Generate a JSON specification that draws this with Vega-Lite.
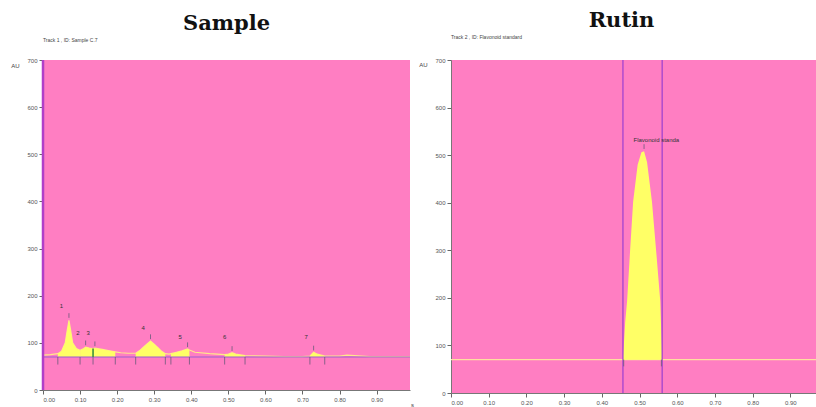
{
  "$schema": "https://vega.github.io/schema/vega-lite/v6.json",
  "background": "white",
  "padding": {"left": 10, "right": 0, "top": 10, "bottom": 0},
  "spacing": 4,
  "config": {
    "view": {"fill": "#FF7EC2", "stroke": null},
    "axis": {"labelFontSize": 6, "labelColor": "#555", "tickColor": "#666", "domainColor": "#777", "grid": false, "tickSize": 4, "labelFont": "Liberation Sans", "titleFont": "Liberation Sans", "titleFontSize": 6, "titleFontWeight": "normal", "titleColor": "#444"},
    "title": {"font": "DejaVu Serif", "fontSize": 21, "fontWeight": "bold", "color": "#111"}
  },
  "datasets": {
    "lsig": [
      {"x": 0.00, "y": 74}, {"x": 0.02, "y": 75}, {"x": 0.04, "y": 77}, {"x": 0.05, "y": 82}, {"x": 0.06, "y": 100},
      {"x": 0.065, "y": 125}, {"x": 0.07, "y": 148}, {"x": 0.075, "y": 125}, {"x": 0.08, "y": 100}, {"x": 0.09, "y": 88},
      {"x": 0.10, "y": 84}, {"x": 0.11, "y": 88}, {"x": 0.115, "y": 91}, {"x": 0.125, "y": 89}, {"x": 0.135, "y": 88},
      {"x": 0.14, "y": 89}, {"x": 0.16, "y": 86}, {"x": 0.18, "y": 83}, {"x": 0.195, "y": 81}, {"x": 0.21, "y": 79},
      {"x": 0.23, "y": 78}, {"x": 0.25, "y": 78}, {"x": 0.26, "y": 83}, {"x": 0.27, "y": 90}, {"x": 0.28, "y": 97},
      {"x": 0.29, "y": 104}, {"x": 0.30, "y": 97}, {"x": 0.31, "y": 90}, {"x": 0.32, "y": 82}, {"x": 0.33, "y": 77},
      {"x": 0.34, "y": 76}, {"x": 0.345, "y": 77}, {"x": 0.36, "y": 80}, {"x": 0.375, "y": 83}, {"x": 0.39, "y": 87},
      {"x": 0.395, "y": 85}, {"x": 0.41, "y": 80}, {"x": 0.45, "y": 77}, {"x": 0.49, "y": 75}, {"x": 0.50, "y": 76},
      {"x": 0.51, "y": 79}, {"x": 0.52, "y": 76}, {"x": 0.545, "y": 73}, {"x": 0.60, "y": 72}, {"x": 0.65, "y": 71},
      {"x": 0.70, "y": 71}, {"x": 0.72, "y": 72}, {"x": 0.73, "y": 80}, {"x": 0.74, "y": 76}, {"x": 0.76, "y": 72},
      {"x": 0.80, "y": 72}, {"x": 0.82, "y": 74}, {"x": 0.84, "y": 73}, {"x": 0.88, "y": 71}, {"x": 0.95, "y": 71}, {"x": 0.99, "y": 71}
    ],
    "larea": [
      {"p": 1, "x": 0.04, "y": 77}, {"p": 1, "x": 0.05, "y": 82}, {"p": 1, "x": 0.06, "y": 100}, {"p": 1, "x": 0.065, "y": 125},
      {"p": 1, "x": 0.07, "y": 148}, {"p": 1, "x": 0.075, "y": 125}, {"p": 1, "x": 0.08, "y": 100}, {"p": 1, "x": 0.09, "y": 88}, {"p": 1, "x": 0.10, "y": 84},
      {"p": 2, "x": 0.10, "y": 84}, {"p": 2, "x": 0.11, "y": 88}, {"p": 2, "x": 0.115, "y": 91}, {"p": 2, "x": 0.125, "y": 89}, {"p": 2, "x": 0.135, "y": 88},
      {"p": 3, "x": 0.135, "y": 88}, {"p": 3, "x": 0.14, "y": 89}, {"p": 3, "x": 0.16, "y": 86}, {"p": 3, "x": 0.18, "y": 83}, {"p": 3, "x": 0.195, "y": 81},
      {"p": 4, "x": 0.25, "y": 78}, {"p": 4, "x": 0.26, "y": 83}, {"p": 4, "x": 0.27, "y": 90}, {"p": 4, "x": 0.28, "y": 97}, {"p": 4, "x": 0.29, "y": 104},
      {"p": 4, "x": 0.30, "y": 97}, {"p": 4, "x": 0.31, "y": 90}, {"p": 4, "x": 0.32, "y": 82}, {"p": 4, "x": 0.33, "y": 77},
      {"p": 5, "x": 0.345, "y": 77}, {"p": 5, "x": 0.36, "y": 80}, {"p": 5, "x": 0.375, "y": 83}, {"p": 5, "x": 0.39, "y": 87}, {"p": 5, "x": 0.395, "y": 85},
      {"p": 6, "x": 0.49, "y": 75}, {"p": 6, "x": 0.50, "y": 76}, {"p": 6, "x": 0.51, "y": 79}, {"p": 6, "x": 0.52, "y": 76}, {"p": 6, "x": 0.545, "y": 73},
      {"p": 7, "x": 0.72, "y": 72}, {"p": 7, "x": 0.73, "y": 80}, {"p": 7, "x": 0.74, "y": 76}, {"p": 7, "x": 0.76, "y": 72}
    ],
    "lbounds": [
      {"x": 0.04}, {"x": 0.10}, {"x": 0.135}, {"x": 0.195}, {"x": 0.25}, {"x": 0.33},
      {"x": 0.345}, {"x": 0.395}, {"x": 0.49}, {"x": 0.545}, {"x": 0.72}, {"x": 0.76}
    ],
    "lapex": [
      {"x": 0.07, "y": 153, "y2": 163, "lx": 0.05, "ly": 178, "label": "1"},
      {"x": 0.115, "y": 95, "y2": 105, "lx": 0.094, "ly": 121, "label": "2"},
      {"x": 0.14, "y": 93, "y2": 103, "lx": 0.122, "ly": 121, "label": "3"},
      {"x": 0.29, "y": 108, "y2": 118, "lx": 0.27, "ly": 131, "label": "4"},
      {"x": 0.39, "y": 91, "y2": 101, "lx": 0.37, "ly": 113, "label": "5"},
      {"x": 0.51, "y": 83, "y2": 93, "lx": 0.49, "ly": 113, "label": "6"},
      {"x": 0.73, "y": 84, "y2": 94, "lx": 0.71, "ly": 113, "label": "7"}
    ],
    "rpeak": [
      {"x": 0.456, "y": 76}, {"x": 0.459, "y": 110}, {"x": 0.462, "y": 150}, {"x": 0.467, "y": 193}, {"x": 0.475, "y": 300},
      {"x": 0.483, "y": 402}, {"x": 0.495, "y": 480}, {"x": 0.505, "y": 506}, {"x": 0.512, "y": 508}, {"x": 0.52, "y": 485},
      {"x": 0.533, "y": 402}, {"x": 0.545, "y": 290}, {"x": 0.555, "y": 193}, {"x": 0.558, "y": 120}, {"x": 0.56, "y": 76}
    ],
    "rvlines": [{"x": 0.456}, {"x": 0.56}]
  },
  "hconcat": [
    {
      "width": 367,
      "height": 330,
      "title": {"text": "Sample", "offset": 4},
      "layer": [
        {
          "data": {"name": "lsig"},
          "mark": {"type": "line", "color": "#FFE88A", "strokeWidth": 1.2},
          "encoding": {
            "x": {"field": "x", "type": "quantitative", "scale": {"domain": [0, 0.99], "nice": false},
                  "axis": {"values": [0, 0.1, 0.2, 0.3, 0.4, 0.5, 0.6, 0.7, 0.8, 0.9], "format": ".2f", "title": "s", "titleX": 369, "titleY": 11}},
            "y": {"field": "y", "type": "quantitative", "scale": {"domain": [0, 700], "nice": false},
                  "axis": {"values": [0, 100, 200, 300, 400, 500, 600, 700], "title": "AU", "titleAngle": 0, "titleX": -28, "titleY": 8, "titleAlign": "center"}}
          }
        },
        {
          "data": {"name": "larea"},
          "mark": {"type": "area", "color": "#FFFF66", "opacity": 1},
          "encoding": {
            "x": {"field": "x", "type": "quantitative"},
            "y": {"field": "y", "type": "quantitative"},
            "y2": {"datum": 70},
            "detail": {"field": "p", "type": "nominal"}
          }
        },
        {
          "data": {"values": [{"x0": 0, "x1": 0.99, "y": 70}]},
          "mark": {"type": "rule", "color": "#9B5FD0", "strokeWidth": 1.2},
          "encoding": {"x": {"field": "x0", "type": "quantitative"}, "x2": {"field": "x1"}, "y": {"field": "y", "type": "quantitative"}}
        },
        {
          "data": {"values": [{"x": 0, "y0": 0, "y1": 700}]},
          "mark": {"type": "rule", "color": "#B040C8", "strokeWidth": 2.5},
          "encoding": {"x": {"field": "x", "type": "quantitative"}, "y": {"field": "y0", "type": "quantitative"}, "y2": {"field": "y1"}}
        },
        {
          "data": {"values": [{"x": 0.135, "y0": 70, "y1": 88}]},
          "mark": {"type": "rule", "color": "#2E8B3A", "strokeWidth": 1.5},
          "encoding": {"x": {"field": "x", "type": "quantitative"}, "y": {"field": "y0", "type": "quantitative"}, "y2": {"field": "y1"}}
        },
        {
          "data": {"name": "lbounds"},
          "mark": {"type": "rule", "color": "#6A5A7A", "strokeWidth": 0.8},
          "encoding": {"x": {"field": "x", "type": "quantitative"}, "y": {"datum": 70}, "y2": {"datum": 54}}
        },
        {
          "data": {"name": "lapex"},
          "mark": {"type": "rule", "color": "#6A5A7A", "strokeWidth": 0.8},
          "encoding": {"x": {"field": "x", "type": "quantitative"}, "y": {"field": "y", "type": "quantitative"}, "y2": {"field": "y2"}}
        },
        {
          "data": {"name": "lapex"},
          "mark": {"type": "text", "fontSize": 6, "color": "#333", "font": "Liberation Sans"},
          "encoding": {"x": {"field": "lx", "type": "quantitative"}, "y": {"field": "ly", "type": "quantitative"}, "text": {"field": "label"}}
        },
        {
          "data": {"values": [{"x": 0, "y": 742, "t": "Track  1 , ID: Sample C.7"}]},
          "mark": {"type": "text", "fontSize": 5, "color": "#444", "align": "left", "font": "Liberation Sans"},
          "encoding": {"x": {"field": "x", "type": "quantitative"}, "y": {"field": "y", "type": "quantitative"}, "text": {"field": "t"}}
        }
      ]
    },
    {
      "width": 365,
      "height": 333,
      "title": {"text": "Rutin", "offset": 4, "dx": -12},
      "layer": [
        {
          "data": {"values": [{"x0": 0, "x1": 0.968, "y": 70}]},
          "mark": {"type": "rule", "color": "#FFE0A0", "strokeWidth": 1.2},
          "encoding": {
            "x": {"field": "x0", "type": "quantitative", "scale": {"domain": [0, 0.968], "nice": false},
                  "axis": {"values": [0, 0.1, 0.2, 0.3, 0.4, 0.5, 0.6, 0.7, 0.8, 0.9], "format": ".2f", "title": null}},
            "x2": {"field": "x1"},
            "y": {"field": "y", "type": "quantitative", "scale": {"domain": [0, 700], "nice": false},
                  "axis": {"values": [0, 100, 200, 300, 400, 500, 600, 700], "title": "AU", "titleAngle": 0, "titleX": -28, "titleY": 7, "titleAlign": "center"}}
          }
        },
        {
          "data": {"name": "rpeak"},
          "mark": {"type": "area", "color": "#FFFF66"},
          "encoding": {"x": {"field": "x", "type": "quantitative"}, "y": {"field": "y", "type": "quantitative"}, "y2": {"datum": 70}}
        },
        {
          "data": {"name": "rvlines"},
          "mark": {"type": "rule", "color": "#9B3FD0", "strokeWidth": 1.2},
          "encoding": {"x": {"field": "x", "type": "quantitative"}, "y": {"datum": 0}, "y2": {"datum": 700}}
        },
        {
          "data": {"values": [{"x": 0.458}, {"x": 0.558}]},
          "mark": {"type": "rule", "color": "#6A5A7A", "strokeWidth": 0.8},
          "encoding": {"x": {"field": "x", "type": "quantitative"}, "y": {"datum": 70}, "y2": {"datum": 56}}
        },
        {
          "data": {"values": [{"x": 0.512, "y": 513, "y2": 523}]},
          "mark": {"type": "rule", "color": "#6A5A7A", "strokeWidth": 0.8},
          "encoding": {"x": {"field": "x", "type": "quantitative"}, "y": {"field": "y", "type": "quantitative"}, "y2": {"field": "y2"}}
        },
        {
          "data": {"values": [{"x": 0.484, "y": 532, "t": "Flavonoid standa"}]},
          "mark": {"type": "text", "fontSize": 6, "color": "#333", "align": "left", "font": "Liberation Sans"},
          "encoding": {"x": {"field": "x", "type": "quantitative"}, "y": {"field": "y", "type": "quantitative"}, "text": {"field": "t"}}
        },
        {
          "data": {"values": [{"x": 0, "y": 748, "t": "Track  2 , ID: Flavonoid standard"}]},
          "mark": {"type": "text", "fontSize": 5, "color": "#444", "align": "left", "font": "Liberation Sans"},
          "encoding": {"x": {"field": "x", "type": "quantitative"}, "y": {"field": "y", "type": "quantitative"}, "text": {"field": "t"}}
        }
      ]
    }
  ]
}
